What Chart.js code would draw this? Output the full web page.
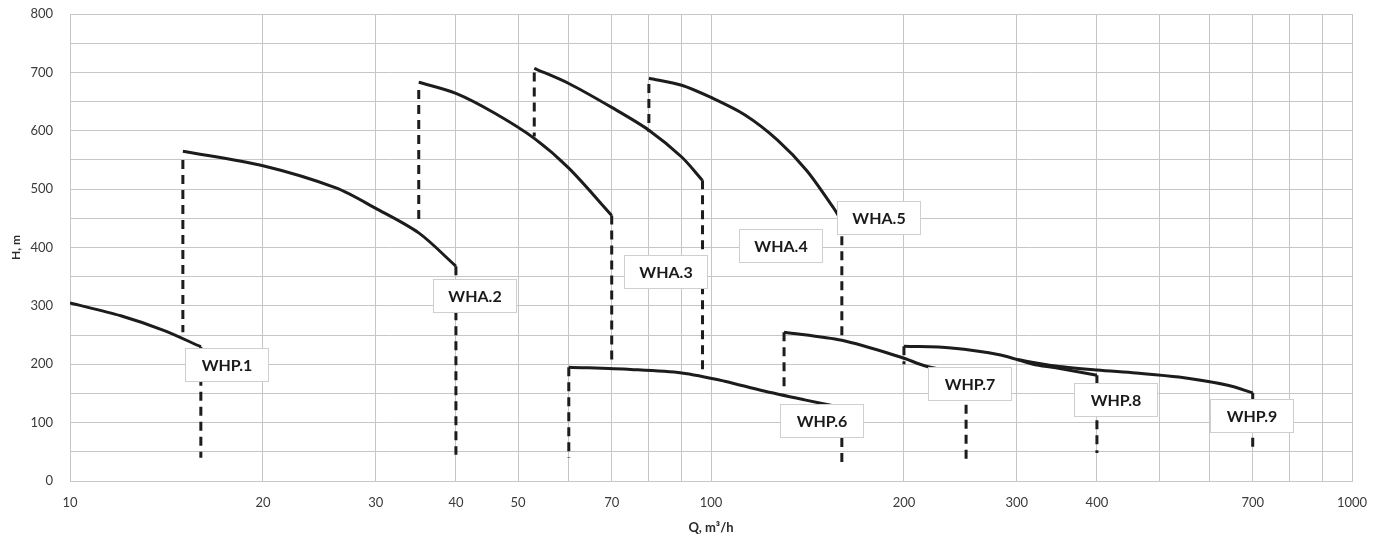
<!DOCTYPE html>
<html>
<head>
<meta charset="utf-8">
<title>Pump curves</title>
<script src="https://cdn.jsdelivr.net/npm/chart.js@4.4.1/dist/chart.umd.min.js"></script>
<style>
    html, body { margin: 0; padding: 0; background: #fff; }
    #wrap { width: 1396px; height: 540px; }
</style>
</head>
<body>
<div id="wrap"><canvas id="pumpChart" width="1396" height="540"></canvas></div>
<script>
// Pump curves: Q in m3/h, H in m

// Curve names (also the box labels)
const curveNames = ['WHP.1', 'WHA.2', 'WHA.3', 'WHA.4', 'WHA.5', 'WHP.6', 'WHP.7', 'WHP.8', 'WHP.9'];

// Q points of each curve
const whp1Q = [10, 12, 14, 16];
const wha2Q = [15, 20, 26, 30, 35, 40];
const wha3Q = [35, 40, 46, 53, 60, 70];
const wha4Q = [53, 60, 70, 80, 90, 97];
const wha5Q = [80, 90, 100, 113, 127, 141, 155, 160];
const whp6Q = [60, 75, 90, 105, 120, 140, 160];
const whp7Q = [130, 160, 198, 216, 250];
const whp8Q = [200, 237, 283, 318, 345, 400];
const whp9Q = [300, 345, 400, 460, 537, 640, 700];

// H points of each curve
const whp1H = [305, 283, 258, 230];
const wha2H = [565, 540, 502, 467, 425, 368];
const wha3H = [683, 664, 630, 587, 536, 455];
const wha4H = [707, 681, 640, 601, 555, 515];
const wha5H = [690, 678, 657, 627, 584, 532, 469, 445];
const whp6H = [195, 191, 185, 171, 155, 139, 126];
const whp7H = [255, 241, 212, 197, 182];
const whp8H = [231, 228, 216, 200, 194, 181];
const whp9H = [208, 197, 190, 185, 178, 164, 151];

// Dashed limit lines: Q position, top H, bottom H
const dropQ      = [16, 15, 40, 35, 70, 53, 97, 80, 160, 60, 160, 130, 250, 200, 400, 700];
const dropTop    = [230, 550, 368, 670, 455, 700, 515, 680, 445, 195, 125, 255, 182, 231, 181, 151];
const dropBottom = [40, 255, 45, 440, 205, 590, 190, 598, 245, 40, 30, 155, 35, 200, 48, 50];

// Where the name boxes sit (Q, H)
const labelQ = [17.6, 42.8, 85, 128.5, 183, 149, 254, 429, 697];
const labelH = [199, 317, 358, 402, 450, 103, 166, 139, 111];

// Axis ticks
const xGrid = [10, 20, 30, 40, 50, 60, 70, 80, 90, 100, 200, 300, 400, 500, 600, 700, 800, 900, 1000];
const xTickLabels = [10, 20, 30, 40, 50, 70, 100, 200, 300, 400, 700, 1000];

const curveQ = [whp1Q, wha2Q, wha3Q, wha4Q, wha5Q, whp6Q, whp7Q, whp8Q, whp9Q];
const curveH = [whp1H, wha2H, wha3H, wha4H, wha5H, whp6H, whp7H, whp8H, whp9H];

const lineColor = '#1c1c1c';
const gridColor = '#c6c6c6';

const datasets = [];

dropQ.forEach(function(q, i) {
    datasets.push({
        label: 'limit ' + (i + 1),
        data: [{x: q, y: dropTop[i]}, {x: q, y: dropBottom[i]}],
        borderColor: lineColor,
        borderWidth: 3,
        borderDash: [9, 6],
        pointRadius: 0,
        showLine: true,
        fill: false
    });
});

curveNames.forEach(function(name, i) {
    datasets.push({
        label: name,
        data: curveQ[i].map(function(q, j) { return {x: q, y: curveH[i][j]}; }),
        borderColor: lineColor,
        borderWidth: 3,
        pointRadius: 0,
        showLine: true,
        tension: 0.3,
        fill: false
    });
});

// Name boxes on top of the lines
const boxLabels = {
    id: 'boxLabels',
    afterDatasetsDraw(chart) {
        const ctx = chart.ctx;
        const xs = chart.scales.x;
        const ys = chart.scales.y;
        ctx.save();
        ctx.font = 'bold 16px Lato';
        ctx.textAlign = 'center';
        ctx.textBaseline = 'middle';
        curveNames.forEach(function(name, i) {
            const cx = Math.round(xs.getPixelForValue(labelQ[i]));
            const cy = Math.round(ys.getPixelForValue(labelH[i]));
            ctx.fillStyle = '#ffffff';
            ctx.fillRect(cx - 42, cy - 17, 84, 34);
            ctx.strokeStyle = '#cfcfcf';
            ctx.lineWidth = 1;
            ctx.strokeRect(cx - 41.5, cy - 16.5, 83, 33);
            ctx.fillStyle = '#1a1a1a';
            ctx.fillText(name, cx, cy + 1);
        });
        ctx.restore();
    }
};

new Chart(document.getElementById('pumpChart'), {
    type: 'scatter',
    data: { datasets: datasets },
    options: {
        responsive: false,
        animation: false,
        devicePixelRatio: 1,
        layout: {
            padding: { left: 0, right: 44, top: 14, bottom: 4 }
        },
        plugins: {
            legend: { display: false },
            tooltip: { enabled: false }
        },
        scales: {
            x: {
                type: 'logarithmic',
                min: 10,
                max: 1000,
                afterBuildTicks: function(axis) {
                    axis.ticks = xGrid.map(function(v) { return {value: v}; });
                },
                afterFit: function(axis) {
                    axis.height = 55;
                },
                ticks: {
                    autoSkip: false,
                    maxRotation: 0,
                    padding: 14,
                    color: '#3a3a3a',
                    font: { family: 'Lato', size: 13 },
                    callback: function(v) {
                        return xTickLabels.includes(v) ? String(v) : '';
                    }
                },
                grid: {
                    color: gridColor,
                    drawTicks: false
                },
                border: { color: gridColor },
                title: {
                    display: true,
                    text: 'Q, m³/h',
                    color: '#2a2a2a',
                    font: { family: 'Lato', size: 13, weight: 'bold' },
                    padding: { top: 0, bottom: 0 }
                }
            },
            y: {
                min: 0,
                max: 800,
                afterFit: function(axis) {
                    axis.width = 70;
                },
                ticks: {
                    stepSize: 50,
                    padding: 0,
                    color: '#3a3a3a',
                    font: { family: 'Lato', size: 13 },
                    callback: function(v) {
                        return v % 100 === 0 ? String(v) : '';
                    }
                },
                grid: {
                    color: gridColor,
                    tickColor: 'rgba(0,0,0,0)',
                    tickLength: 17
                },
                border: { color: gridColor },
                title: {
                    display: true,
                    text: 'H, m',
                    color: '#2a2a2a',
                    font: { family: 'Lato', size: 12, weight: 'bold' },
                    padding: { top: 9, bottom: 0 }
                }
            }
        }
    },
    plugins: [boxLabels]
});
</script>
</body>
</html>
